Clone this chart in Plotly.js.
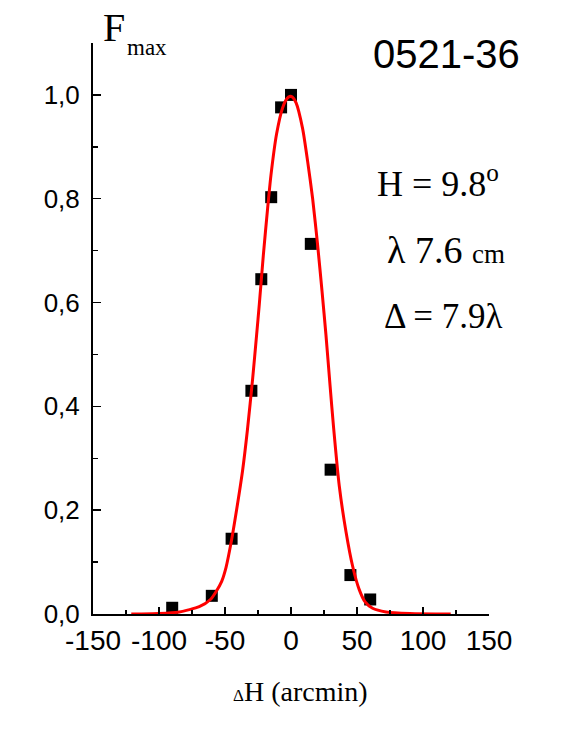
<!DOCTYPE html>
<html>
<head>
<meta charset="utf-8">
<script src="https://cdn.plot.ly/plotly-3.0.1.min.js"></script>
<style>html,body{margin:0;padding:0;background:#fff;}#chart{width:572px;height:740px;}</style>
</head>
<body>
<div id="chart"></div>
<script>
// Measured points (squares)
var dataX = [-90, -60, -45, -30, -22.5, -15, -7.5, 0, 15, 30, 45, 60];
var dataY = [0.012, 0.035, 0.145, 0.43, 0.645, 0.803, 0.976, 1.0, 0.713, 0.278, 0.075, 0.028];

// Fitted curve
var fitX = [-121, -100, -84.6, -69.5, -61, -56.8, -52.5, -49.2, -45.2, -41.7, -36.7, -33, -29, -26, -24, -21, -17.7, -15.2, -10.9, -6.4, -3, -1, 1, 3.8, 8.8, 12.6, 16.4, 20.2, 23.5, 26.5, 29.5, 32.3, 36.6, 41.7, 46.7, 51.7, 56, 61.8, 72, 90, 121];
var fitY = [0.0, 0.001, 0.004, 0.014, 0.028, 0.043, 0.063, 0.09, 0.14, 0.193, 0.276, 0.355, 0.455, 0.539, 0.597, 0.69, 0.782, 0.845, 0.925, 0.975, 0.993, 0.997, 0.996, 0.985, 0.935, 0.872, 0.8, 0.71, 0.622, 0.537, 0.443, 0.358, 0.246, 0.158, 0.092, 0.047, 0.024, 0.011, 0.004, 0.001, 0.0];

// Tick labels
var xTickVals = [-150, -100, -50, 0, 50, 100, 150];
var xTickText = ["-150", "-100", "-50", "0", "50", "100", "150"];
var yTickVals = [0, 0.2, 0.4, 0.6, 0.8, 1.0];
var yTickText = ["0,0", "0,2", "0,4", "0,6", "0,8", "1,0"];

// Plot area in pixels
var L = 93, R = 489, T = 43, B = 614;
function px(x) { return (x - L) / (R - L); }
function py(y) { return (B - y) / (B - T); }

var traces = [
  {
    x: dataX, y: dataY, type: 'scatter', mode: 'markers',
    marker: {symbol: 'square', size: 12, color: '#000000'},
    hoverinfo: 'skip', showlegend: false
  },
  {
    x: fitX, y: fitY, type: 'scatter', mode: 'lines',
    line: {color: '#ff0000', width: 3, shape: 'spline', smoothing: 0.6},
    hoverinfo: 'skip', showlegend: false
  }
];

var serif = 'Liberation Serif, Times New Roman, serif';
var sans = 'Liberation Sans, Arial, sans-serif';

var layout = {
  width: 572, height: 740,
  margin: {l: L, r: 572 - R, t: T, b: 740 - B, pad: 0},
  paper_bgcolor: '#ffffff', plot_bgcolor: '#ffffff',
  showlegend: false,
  xaxis: {
    range: [-150, 150], showgrid: false, zeroline: false,
    showline: true, linecolor: '#000', linewidth: 2,
    ticks: 'inside', ticklen: 7, tickwidth: 1.5, tickcolor: '#000',
    tickvals: xTickVals, ticktext: xTickText,
    tickfont: {family: sans, size: 28, color: '#000'},
    minor: {dtick: 25, tick0: 0, ticks: 'inside', ticklen: 4, tickwidth: 1.5, tickcolor: '#000', showgrid: false},
    fixedrange: true
  },
  yaxis: {
    range: [0, 1.1], showgrid: false, zeroline: false,
    showline: true, linecolor: '#000', linewidth: 2,
    ticks: 'inside', ticklen: 8, tickwidth: 1.5, tickcolor: '#000',
    tickvals: yTickVals, ticktext: yTickText,
    tickfont: {family: sans, size: 26, color: '#000'},
    ticklabelstandoff: 6,
    minor: {dtick: 0.1, tick0: 0, ticks: 'inside', ticklen: 5, tickwidth: 1.5, tickcolor: '#000', showgrid: false},
    fixedrange: true
  },
  annotations: [
    {text: 'F', xref: 'paper', yref: 'paper', x: px(101), y: py(27), xanchor: 'left', yanchor: 'middle', showarrow: false,
     font: {family: serif, size: 40, color: '#000'}},
    {text: 'max', xref: 'paper', yref: 'paper', x: px(125), y: py(47), xanchor: 'left', yanchor: 'middle', showarrow: false,
     font: {family: serif, size: 23, color: '#000'}},
    {text: '0521-36', xref: 'paper', yref: 'paper', x: px(371), y: py(54), xanchor: 'left', yanchor: 'middle', showarrow: false,
     font: {family: sans, size: 40, color: '#000'}},
    {text: 'H = 9.8<sup>o</sup>', xref: 'paper', yref: 'paper', x: px(375), y: py(181), xanchor: 'left', yanchor: 'middle', showarrow: false,
     font: {family: serif, size: 36, color: '#000'}},
    {text: 'λ 7.6 <span style="font-size:27px">cm</span>', xref: 'paper', yref: 'paper', x: px(385), y: py(250), xanchor: 'left', yanchor: 'middle', showarrow: false,
     font: {family: serif, size: 38, color: '#000'}},
    {text: 'Δ = 7.9λ', xref: 'paper', yref: 'paper', x: px(382), y: py(316), xanchor: 'left', yanchor: 'middle', showarrow: false,
     font: {family: serif, size: 35, color: '#000'}},
    {text: '<span style="font-size:17px">Δ</span>H (arcmin)', xref: 'paper', yref: 'paper', x: px(231), y: py(691), xanchor: 'left', yanchor: 'middle', showarrow: false,
     font: {family: serif, size: 28, color: '#000'}}
  ]
};

Plotly.newPlot('chart', traces, layout, {displayModeBar: false, staticPlot: true});
</script>
</body>
</html>
